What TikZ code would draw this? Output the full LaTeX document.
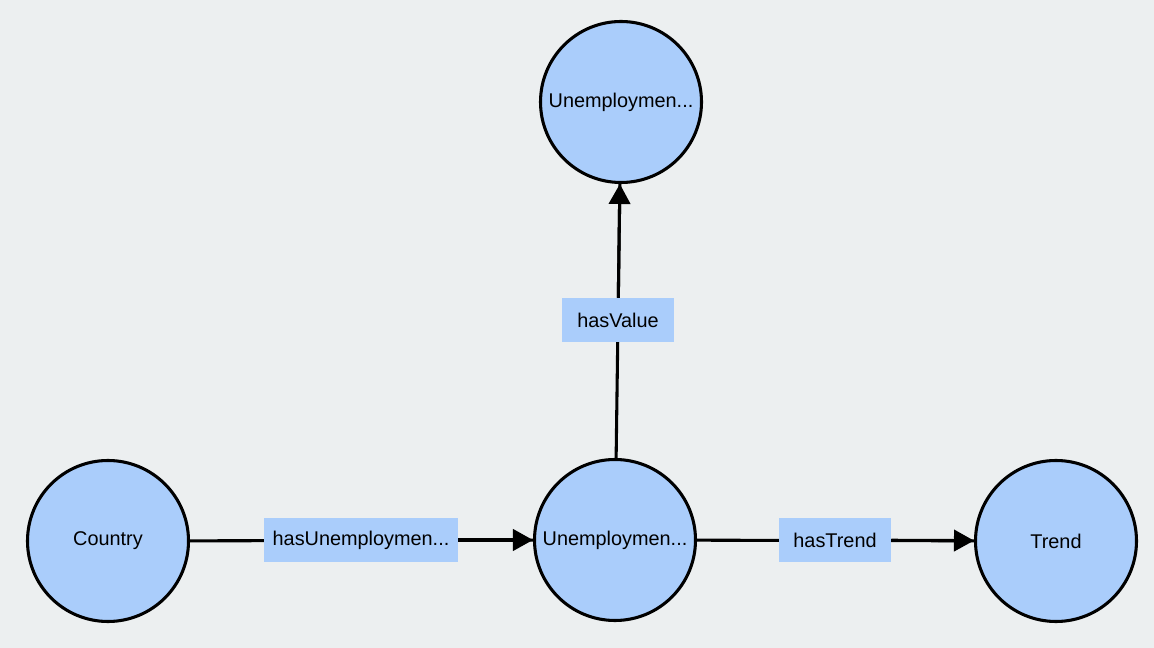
\documentclass[tikz,border=0pt]{standalone}
\usepackage{fontspec}
\setmainfont{Liberation Sans}
\usetikzlibrary{arrows.meta}
\definecolor{bg}{HTML}{ECEFF0}
\definecolor{nodefill}{HTML}{AACDFB}
\begin{document}
\begin{tikzpicture}[x=0.75pt,y=-0.75pt,
  entity/.style={circle,draw=black,line width=2.3pt,fill=nodefill,minimum size=161*0.75pt,inner sep=0pt,font=\fontsize{14.9}{17}\selectfont},
  rel/.style={fill=nodefill,inner sep=0pt,minimum height=44*0.75pt,font=\fontsize{14.9}{17}\selectfont},
  link/.style={line width=2.3pt,-{Triangle[length=15pt,width=16pt]}},
  plain/.style={line width=2.3pt}]
\fill[bg] (0,0) rectangle (1154,648);
\useasboundingbox (0,0) rectangle (1154,648);
\node[entity] (top) at (621,102) {Unemploymen...};
\node[entity] (country) at (108,541) {Country};
\node[entity] (mid) at (615,540) {Unemploymen...};
\node[entity] (trend) at (1056,541) {Trend};
\draw[plain] (country) -- (mid);
\draw[plain] (mid) -- (trend);
\draw[plain] (mid) -- (top);
\node[rel,minimum width=194*0.75pt] (l1) at (361,540) {hasUnemploymen...};
\node[rel,minimum width=112*0.75pt] (l2) at (835,540) {hasTrend};
\node[rel,minimum width=112*0.75pt] (l3) at (618,320) {hasValue};
\draw[link] (l1) -- (mid);
\draw[link] (l2) -- (trend);
\draw[link] (l3) -- (top);
\end{tikzpicture}
\end{document}
